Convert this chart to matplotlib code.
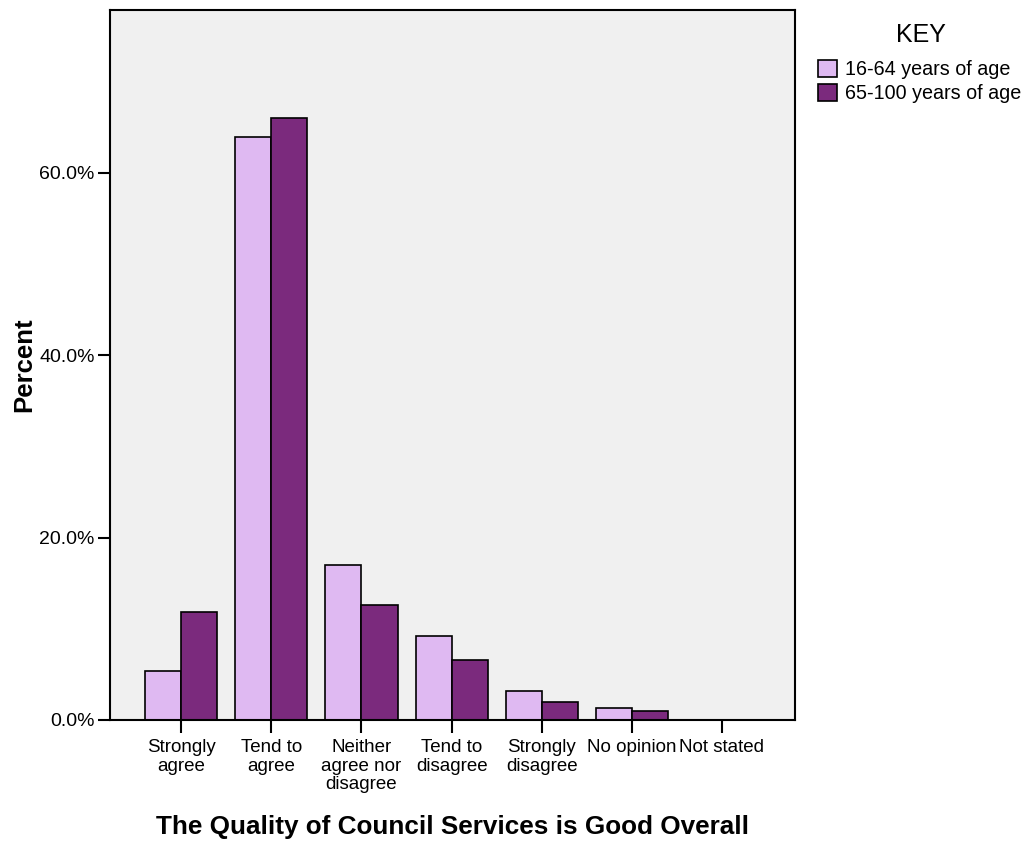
import numpy as np
import matplotlib.pyplot as plt

plt.rcParams['font.family'] = ['Liberation Sans', 'DejaVu Sans']

categories = ["Strongly\nagree", "Tend to\nagree", "Neither\nagree nor\ndisagree",
              "Tend to\ndisagree", "Strongly\ndisagree", "No opinion", "Not stated"]
age_16_64 = [5.4, 63.9, 17.0, 9.2, 3.2, 1.3, 0.0]
age_65_100 = [11.8, 66.0, 12.6, 6.6, 2.0, 1.0, 0.0]
series_names = ["16-64 years of age", "65-100 years of age"]

fig = plt.figure(figsize=(10.27, 8.42), dpi=100)
ax = fig.add_axes([0.1071, 0.1449, 0.667, 0.843])
ax.set_facecolor('#f0f0f0')

x = np.arange(len(categories))
w = 0.4
ax.bar(x - w/2, age_16_64, w, color='#dfb9f2', edgecolor='black', linewidth=1.2, label=series_names[0])
ax.bar(x + w/2, age_65_100, w, color='#7b2a7d', edgecolor='black', linewidth=1.2, label=series_names[1])

ax.set_xlim(-0.79, 6.81)
ax.set_ylim(0, 77.8)
ax.set_yticks([0, 20, 40, 60])
ax.set_yticklabels(["0.0%", "20.0%", "40.0%", "60.0%"])
ax.set_xticks(x)
ax.set_xticklabels(categories, linespacing=1.1)
ax.tick_params(axis='y', labelsize=14, length=9, width=1.5, direction='out', pad=2)
ax.tick_params(axis='x', labelsize=13.5, length=9, width=1.5, direction='out', pad=5)
for s in ax.spines.values():
    s.set_linewidth(1.5)

ax.set_ylabel("Percent", fontsize=18.5, fontweight='bold', labelpad=2)
ax.set_xlabel("The Quality of Council Services is Good Overall", fontsize=18.8,
              fontweight='bold', labelpad=16)

fig.text(0.897, 0.959, "KEY", fontsize=18, ha='center', va='center')
leg = fig.legend(loc='upper left', bbox_to_anchor=(0.789, 0.938), frameon=False,
                 fontsize=14.2, handlelength=0.95, handleheight=0.95,
                 handletextpad=0.4, labelspacing=0.22, borderaxespad=0.0)

fig.savefig("out.png", dpi=100)
